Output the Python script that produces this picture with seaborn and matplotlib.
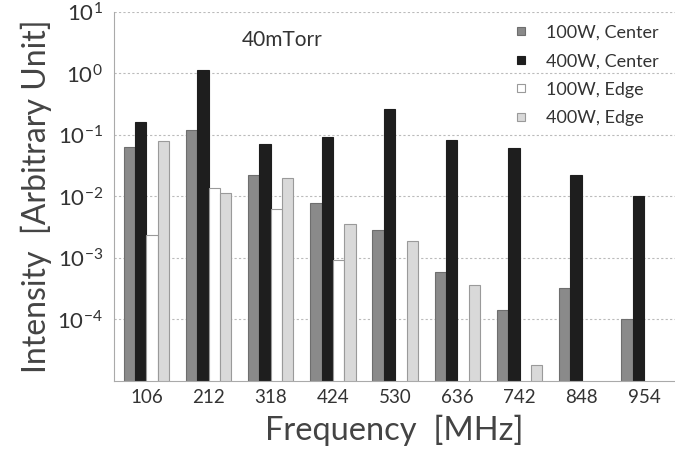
import matplotlib
matplotlib.use('Agg')
import numpy as np
import pandas as pd
import matplotlib.pyplot as plt
import seaborn as sns

freqs = ['106', '212', '318', '424', '530', '636', '742', '848', '954']
series = ['100W, Center', '400W, Center', '100W, Edge', '400W, Edge']
w100_center = [0.064, 0.12, 0.022, 0.0079, 0.0028, 0.0006, 0.00014, 0.00032, 0.0001]
w400_center = [0.16, 1.14, 0.072, 0.093, 0.26, 0.083, 0.061, 0.022, 0.0102]
w100_edge = [0.0024, 0.0139, 0.0063, 0.00094, np.nan, np.nan, np.nan, np.nan, np.nan]
w400_edge = [0.081, 0.0114, 0.020, 0.0035, 0.0019, 0.00037, 0.0000185, np.nan, np.nan]

colors = ['#8a8a8a', '#1e1e1e', '#ffffff', '#d9d9d9']
edges = ['#6e6e6e', '#1e1e1e', '#9a9a9a', '#9a9a9a']

df = pd.DataFrame({
    'freq': freqs * 4,
    'series': np.repeat(series, len(freqs)),
    'value': w100_center + w400_center + w100_edge + w400_edge,
})

sns.set_style('white')
plt.rcParams['font.family'] = ['Lato', 'DejaVu Sans']
plt.rcParams['mathtext.fontset'] = 'custom'
plt.rcParams['mathtext.rm'] = 'Lato'
plt.rcParams['mathtext.it'] = 'Lato'

fig = plt.figure(figsize=(6.75, 4.59), dpi=100)
ax = fig.add_axes([0.169, 0.17, 0.831, 0.804])
ax.set_yscale('log')

sns.barplot(data=df, x='freq', y='value', hue='series', hue_order=series,
            palette=colors, width=0.73, gap=0, ax=ax, legend=False,
            linewidth=0.8)
for cont, ec in zip(ax.containers, edges):
    for p in cont:
        p.set_edgecolor(ec)

ax.set_ylim(1e-5, 10)
ax.set_xlim(-0.52, 8.4)
ax.set_yticks([1e-4, 1e-3, 1e-2, 1e-1, 1e0, 1e1])
ax.set_yticklabels([r'$10^{-4}$', r'$10^{-3}$', r'$10^{-2}$', r'$10^{-1}$', r'$10^{0}$', r'$10^{1}$'])
ax.minorticks_off()
ax.yaxis.grid(True, linestyle=(0, (2, 2)), color='#bbbbbb', linewidth=0.8)
ax.set_axisbelow(True)

for s in ['top', 'right']:
    ax.spines[s].set_visible(False)
for s in ['left', 'bottom']:
    ax.spines[s].set_color('#aaaaaa')
    ax.spines[s].set_linewidth(0.8)

ax.tick_params(axis='both', labelsize=13.5, colors='#333333', length=0, pad=6)
ax.tick_params(axis='y', labelsize=16, pad=8)
ax.set_xticks(np.arange(-0.5, 9, 1), minor=True)
ax.tick_params(axis='x', which='minor', length=3, color='#aaaaaa')

ax.set_xlabel('Frequency  [MHz]', fontsize=23.5, color='#444444', labelpad=6)
ax.set_ylabel('Intensity  [Arbitrary Unit]', fontsize=23, color='#444444', labelpad=4)

ax.text(0.30, 0.925, '40mTorr', transform=ax.transAxes, ha='center', va='center',
        fontsize=15, color='#333333')

handles = [plt.Line2D([], [], marker='s', linestyle='none', markersize=6,
                      markerfacecolor=c, markeredgecolor=e, markeredgewidth=0.8)
           for c, e in zip(colors, edges)]
ax.legend(handles, series, loc='upper right', bbox_to_anchor=(1.0, 1.01),
          frameon=False, fontsize=13, handletextpad=0.4, labelspacing=0.7,
          labelcolor='#333333')

fig.savefig('out.png', dpi=100)
